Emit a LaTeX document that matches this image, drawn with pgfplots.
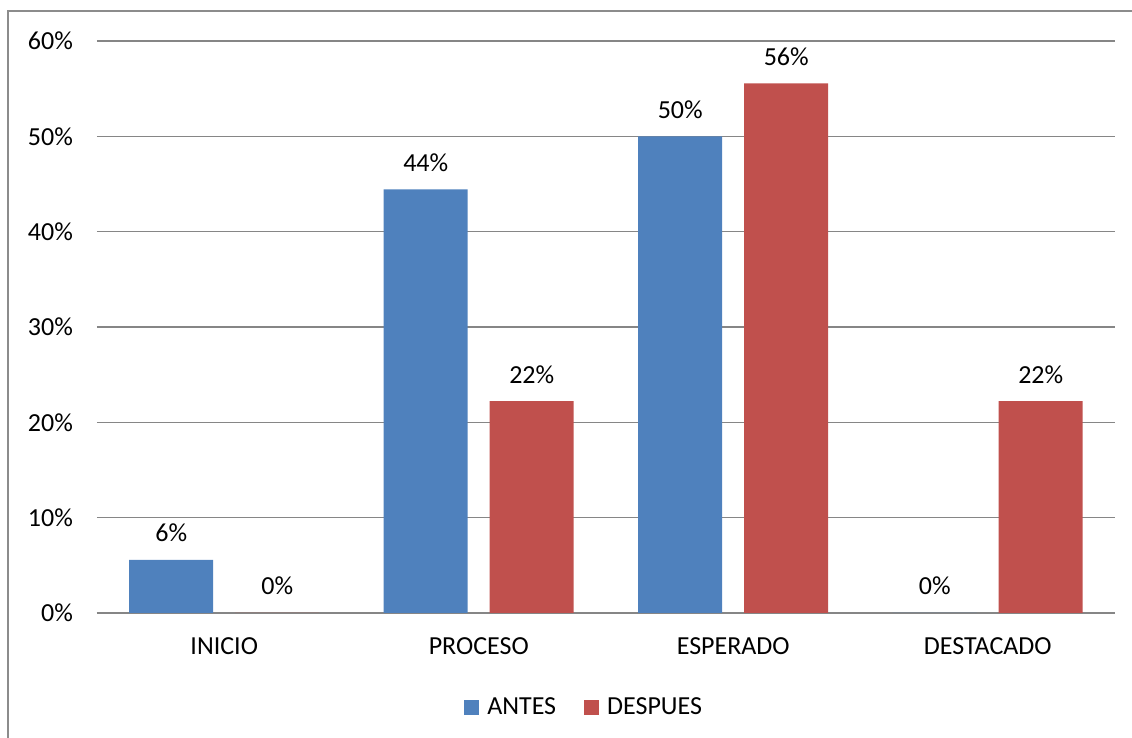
\documentclass[border=0pt]{standalone}
\usepackage{fontspec}
\setmainfont{Carlito}
\usepackage{pgfplots}
\pgfplotsset{compat=1.18}
\definecolor{antes}{HTML}{4F81BD}
\definecolor{despues}{HTML}{C0504D}
\definecolor{gridgray}{HTML}{868686}
\definecolor{framegray}{HTML}{8C8C8C}
\begin{document}
\begin{tikzpicture}
\useasboundingbox (0,0) rectangle (566pt,369pt);
\draw[framegray, line width=1pt] (4pt,-1pt) -- (4pt,363.5pt) -- (570pt,363.5pt);
\begin{axis}[
  at={(48.5pt,62.5pt)}, anchor=south west,
  scale only axis, width=509pt, height=286pt,
  xmin=-0.5, xmax=3.5, ymin=0, ymax=60,
  ybar=11pt, bar width=42pt,
  axis x line*=bottom, axis y line*=left,
  x axis line style={gridgray, line width=0.8pt, -},
  y axis line style={draw=none},
  ymajorgrids, grid style={gridgray, line width=0.8pt},
  major tick length=0pt,
  xtick={0,1,2,3},
  xticklabels={INICIO,PROCESO,ESPERADO,DESTACADO},
  ytick={0,10,20,30,40,50,60},
  yticklabels={0\%,10\%,20\%,30\%,40\%,50\%,60\%},
  tick label style={font=\fontsize{13}{15}\selectfont, text=black},
  yticklabel style={xshift=-8.5pt},
  xticklabel style={yshift=-9pt},
  point meta=explicit symbolic,
  nodes near coords,
  every node near coord/.append style={font=\fontsize{13}{15}\selectfont, anchor=base, inner sep=0pt, yshift=9pt, text=black},
  legend columns=2,
  legend style={at={(0.4795,-0.1658)}, anchor=center, draw=none, fill=none,
    font=\fontsize{13}{15}\selectfont,
    /tikz/every even column/.append style={column sep=12pt},
    /tikz/every odd column/.append style={column sep=2pt},
    inner sep=0pt},
  legend image code/.code={\fill[#1] (0pt,-3.75pt) rectangle (7.5pt,3.75pt);},
]
\addplot[fill=antes, draw=none] coordinates {(0,5.56)[6\%] (1,44.44)[44\%] (2,50.0)[50\%] (3,0)[0\%]};
\addplot[fill=despues, draw=none] coordinates {(0,0)[0\%] (1,22.22)[22\%] (2,55.56)[56\%] (3,22.22)[22\%]};
\legend{ANTES,DESPUES}
\end{axis}
\end{tikzpicture}
\end{document}
